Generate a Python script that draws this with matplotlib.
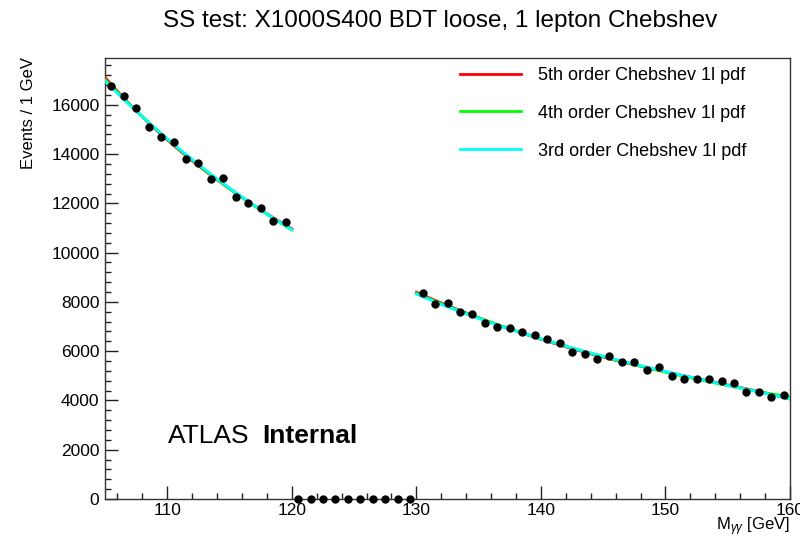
import numpy as np
import matplotlib
matplotlib.use("Agg")
import matplotlib.pyplot as plt
from matplotlib.ticker import MultipleLocator

plt.rcParams['font.family'] = ['Liberation Sans', 'DejaVu Sans']
plt.rcParams['mathtext.fontset'] = 'custom'
plt.rcParams['mathtext.rm'] = 'Liberation Sans'
plt.rcParams['mathtext.it'] = 'Liberation Sans:italic'

# ---- data (bin centres, 1 GeV bins) ----
x_left = np.arange(105.5, 120.0, 1.0)
y_left = [16772, 16365, 15866, 15119, 14713, 14510, 13795, 13657, 12983,
          13023, 12276, 12032, 11805, 11302, 11236]
x_blind = np.arange(120.5, 130.0, 1.0)
y_blind = [0] * 10
x_right = np.arange(130.5, 160.0, 1.0)
y_right = [8353, 7907, 7947, 7606, 7513, 7160, 6973, 6956, 6769, 6660,
           6497, 6323, 5957, 5888, 5685, 5819, 5576, 5576, 5239, 5348,
           4995, 4873, 4873, 4861, 4792, 4698, 4333, 4333, 4154, 4211]

fit_orders = [5, 4, 3]
fit_labels = ["5th order Chebshev 1l pdf", "4th order Chebshev 1l pdf",
              "3rd order Chebshev 1l pdf"]
fit_colors = ["#ff0000", "#00ff00", "#00ffff"]

title = "SS test: X1000S400 BDT loose, 1 lepton Chebshev"
xlim = (105, 160)
ylim = (0, 17900)

fig = plt.figure(figsize=(8.0, 5.46), dpi=100)
ax = fig.add_axes([105/800, 1-499/546, (790-105)/800, (499-58)/546])

# sideband fits
xs = np.concatenate([x_left, x_right])
ys = np.concatenate([y_left, y_right]).astype(float)
seg_l = np.linspace(105, 120, 200)
seg_r = np.linspace(130, 160, 300)
for order, lab, col in zip(fit_orders, fit_labels, fit_colors):
    cheb = np.polynomial.Chebyshev.fit(xs, ys, order, domain=[105, 160])
    ax.plot(seg_l, cheb(seg_l), color=col, lw=2.0, label=lab, zorder=3)
    ax.plot(seg_r, cheb(seg_r), color=col, lw=2.0, zorder=3)

ax.plot(x_left, y_left, 'o', color='black', ms=5, zorder=4, clip_on=False)
ax.plot(x_right, y_right, 'o', color='black', ms=5, zorder=4, clip_on=False)
ax.plot(x_blind, y_blind, 'o', color='black', ms=5, zorder=4, clip_on=False)

ax.set_xlim(*xlim)
ax.set_ylim(*ylim)
ax.xaxis.set_major_locator(MultipleLocator(10))
ax.xaxis.set_minor_locator(MultipleLocator(2))
ax.yaxis.set_major_locator(MultipleLocator(2000))
ax.yaxis.set_minor_locator(MultipleLocator(400))
ax.tick_params(which='both', direction='in', top=False, right=False,
               labelsize=12.5, color='#222222', width=1.0)
ax.tick_params(which='major', length=9.5)
ax.tick_params(which='minor', length=4.5)
ax.tick_params(axis='y', pad=4)
ax.tick_params(axis='x', pad=3)
for s in ax.spines.values():
    s.set_color('#333333')
    s.set_linewidth(1.0)

fig.text(440/800, 1-21/546, title, ha='center', va='center', fontsize=17.5)
fig.text(29/800, 1-57/546, "Events / 1 GeV", rotation=90, ha='center',
         va='top', fontsize=12)
fig.text(790/800, 1-527/546, r"M$_{\gamma\gamma}$ [GeV]", ha='right',
         va='center', fontsize=12)

ax.text(168/800, 1-436/546, "ATLAS", transform=fig.transFigure,
        fontsize=19, va='center', ha='left')
ax.text(262/800, 1-436/546, "Internal", transform=fig.transFigure,
        fontsize=19, va='center', ha='left', fontweight='bold')

leg = ax.legend(loc='upper left', bbox_to_anchor=(460/800, 1-67/546),
                bbox_transform=fig.transFigure, frameon=False, fontsize=13,
                handlelength=3.4, handletextpad=0.9, labelspacing=1.15,
                borderaxespad=0, borderpad=0)

fig.savefig("out.png", dpi=100)
